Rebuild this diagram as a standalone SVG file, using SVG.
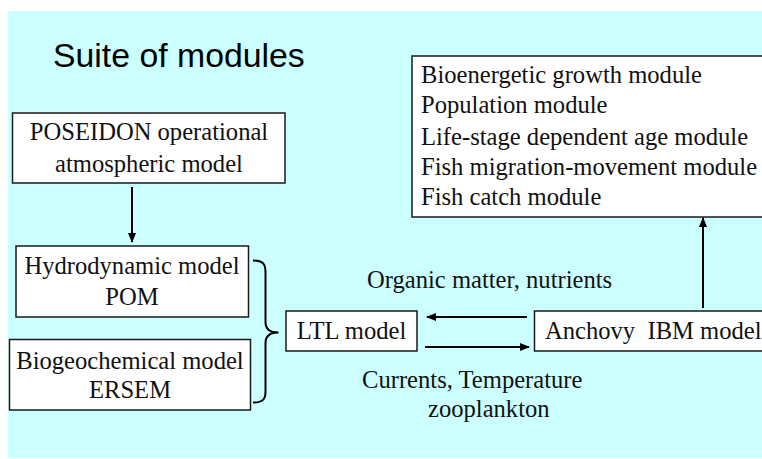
<svg xmlns="http://www.w3.org/2000/svg" width="762" height="459" viewBox="0 0 762 459">
<style>
.box{fill:#ffffff;stroke:#1a1a1a;stroke-width:1.5}
.t{font-family:"Liberation Serif","Times New Roman",serif;font-size:24.6px;fill:#111}
.c{text-anchor:middle}
.ln{stroke:#000;stroke-width:2;fill:none}
</style>
<defs>
<marker id="ah" markerWidth="10" markerHeight="8" refX="9" refY="4" orient="auto" markerUnits="userSpaceOnUse">
<path d="M0,0 L10,4 L0,8 Z" fill="#000"/>
</marker>
</defs>
<rect x="0" y="0" width="762" height="459" fill="#ffffff"/>
<rect x="8" y="11" width="754" height="447" fill="#ccffff"/>
<text x="53" y="67" style="font-family:'Liberation Sans',Arial,sans-serif;font-size:33.8px;fill:#000">Suite of modules</text>
<g id="modules">
<rect class="box" x="412" y="56" width="360" height="161"/>
<text class="t" x="421" y="83">Bioenergetic growth module</text>
<text class="t" x="421" y="113">Population module</text>
<text class="t" x="421" y="145">Life-stage dependent age module</text>
<text class="t" x="421" y="175">Fish migration-movement module</text>
<text class="t" x="421" y="205">Fish catch module</text>
</g>
<g id="poseidon">
<rect class="box" x="12.5" y="113" width="272.5" height="70"/>
<text class="t c" x="149" y="140">POSEIDON operational</text>
<text class="t c" x="149" y="172">atmospheric model</text>
</g>
<g id="hydro">
<rect class="box" x="16" y="246" width="232.5" height="71"/>
<text class="t c" x="132" y="274">Hydrodynamic model</text>
<text class="t c" x="132" y="305">POM</text>
</g>
<g id="biogeo">
<rect class="box" x="9.5" y="339.5" width="241" height="70.5"/>
<text class="t c" x="130" y="369">Biogeochemical model</text>
<text class="t c" x="130" y="398">ERSEM</text>
</g>
<g id="ltl">
<rect class="box" x="286" y="311" width="131" height="40"/>
<text class="t c" x="351.5" y="339">LTL model</text>
</g>
<g id="anchovy">
<rect class="box" x="534.5" y="311" width="240" height="40"/>
<text class="t" x="545" y="339" xml:space="preserve">Anchovy  IBM model</text>
</g>
<g id="connectors">
<path class="ln" d="M253,260.5 C263,260.5 265.5,264 265.5,272 L265.5,322 C265.5,329 270,332.5 278.5,332.5 C270,332.5 265.5,336 265.5,343 L265.5,392 C265.5,399 263,402.5 253,402.5" stroke-width="1.2"/>
<line class="ln" x1="132" y1="187" x2="132" y2="242" marker-end="url(#ah)"/>
<line class="ln" x1="703" y1="308" x2="703" y2="218" marker-end="url(#ah)"/>
<line class="ln" x1="527" y1="317" x2="427" y2="317" marker-end="url(#ah)"/>
<line class="ln" x1="425" y1="347" x2="529" y2="347" marker-end="url(#ah)"/>
<text class="t" x="367" y="288">Organic matter, nutrients</text>
<text class="t" x="362" y="388">Currents, Temperature</text>
<text class="t" x="428" y="417">zooplankton</text>
</g>
</svg>
